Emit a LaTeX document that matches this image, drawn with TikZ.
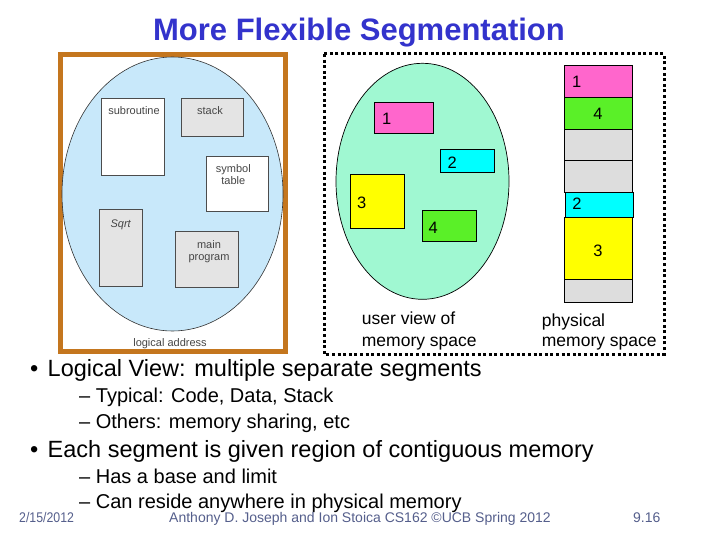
\documentclass[tikz,border=0pt]{standalone}
\usepackage{fontspec}
\setmainfont{Liberation Sans}
\usepackage{graphicx}
\definecolor{titleblue}{RGB}{51,51,204}
\definecolor{framebrown}{RGB}{196,118,30}
\definecolor{lightblue}{RGB}{200,232,250}
\definecolor{mint}{RGB}{160,248,210}
\definecolor{segpink}{RGB}{255,102,204}
\definecolor{seggreen}{RGB}{90,240,40}
\definecolor{segcyan}{RGB}{0,255,255}
\definecolor{segyellow}{RGB}{255,255,0}
\definecolor{memgray}{RGB}{221,221,221}
\definecolor{boxgray}{RGB}{228,228,228}
\definecolor{smalltext}{RGB}{70,70,70}
\definecolor{footcol}{RGB}{85,95,140}
\begin{document}
\begin{tikzpicture}[x=1pt,y=-1pt,
  smallbox/.style={draw=black!70,line width=0.8pt},
  smalllabel/.style={inner sep=0pt,anchor=base,text=smalltext,font=\fontsize{11}{12}\selectfont},
  seg/.style={draw=black,line width=1pt},
  seglabel/.style={inner sep=0pt,font=\fontsize{16.5}{18}\selectfont},
  caption/.style={inner sep=0pt,anchor=base west,font=\fontsize{17.5}{20}\selectfont},
  bulletA/.style={inner sep=0pt,anchor=base west,font=\fontsize{23.5}{27}\selectfont},
  bulletB/.style={inner sep=0pt,anchor=base west,font=\fontsize{20}{24}\selectfont},
  foot/.style={inner sep=0pt,text=footcol,font=\fontsize{14}{16}\selectfont}]
\useasboundingbox (0,0) rectangle (720,540);
\fill[white] (0,0) rectangle (720,540);

% title
\node[inner sep=0pt,anchor=base,text=titleblue,font=\fontsize{31}{36}\selectfont\bfseries] (title) at (359,41) {More Flexible Segmentation};

% logical address picture
\draw[framebrown,line width=5pt] (60,54.7) rectangle (285,351);
\draw[fill=lightblue,draw=black!80,line width=0.6pt] (172.5,194) ellipse [x radius=110.5,y radius=137];
\draw[smallbox,fill=white] (101,98.3) rectangle (164.3,175.3);
\node[smalllabel] (subr) at (134,114.5) {subroutine};
\draw[smallbox,fill=boxgray] (181,98.3) rectangle (243.3,136);
\node[smalllabel] (stack) at (210,114.5) {stack};
\draw[smallbox,fill=white] (206,156) rectangle (268.3,211.7);
\node[smalllabel] (symb) at (233.3,173) {symbol};
\node[smalllabel] (tabl) at (233.3,185) {table};
\draw[smallbox,fill=boxgray] (99.3,209.3) rectangle (142.3,286);
\node[smalllabel,font=\fontsize{11}{12}\selectfont\itshape] (sqrt) at (120.7,227) {Sqrt};
\draw[smallbox,fill=boxgray] (175.7,231.7) rectangle (238.3,287.3);
\node[smalllabel] (mainl) at (209,248) {main};
\node[smalllabel] (progl) at (209,260.5) {program};
\node[smalllabel] (logaddr) at (170,346.5) {logical address};

% dotted frame
\draw[line width=3pt,dash pattern=on 3pt off 2.6pt] (324,54) rectangle (664,354);

% user view
\draw[fill=mint,draw=black,line width=0.7pt] (422.5,181.3) ellipse [x radius=86.5,y radius=118];
\draw[seg,fill=segpink] (374.3,102.3) rectangle (433.3,133.3);
\node[seglabel] (u1) at (386.7,119.3) {1};
\draw[seg,fill=segcyan] (440.3,150) rectangle (494.3,172.3);
\node[seglabel] (u2) at (452.3,162.7) {2};
\draw[seg,fill=segyellow] (350,174.3) rectangle (404.3,228.3);
\node[seglabel] (u3) at (361.7,202.7) {3};
\draw[seg,fill=seggreen] (422,210.3) rectangle (476.3,241.3);
\node[seglabel] (u4) at (433.3,227.7) {4};

% physical memory
\draw[seg,fill=segpink] (564.7,66) rectangle (632.3,97.3);
\node[seglabel] (p1) at (576.7,82) {1};
\draw[seg,fill=seggreen] (564.7,97.3) rectangle (632.3,129.3);
\node[seglabel] (p4) at (598,114) {4};
\draw[seg,fill=memgray] (564.7,129.3) rectangle (632.3,161);
\draw[seg,fill=memgray] (564.7,161) rectangle (632.3,192.7);
\draw[seg,fill=segyellow] (564.7,217.3) rectangle (632.3,279.3);
\node[seglabel] (p3) at (598,250.7) {3};
\draw[seg,fill=memgray] (564.7,279.3) rectangle (632.3,302.3);
\draw[seg,fill=segcyan] (565.7,192.7) rectangle (633.3,217.3);
\node[seglabel] (p2) at (577,204) {2};

\node[caption] (uv1) at (361.7,324.5) {user view of};
\node[caption] (uv2) at (361.7,346.7) {memory space};
\node[caption] (pm1) at (541.7,326.5) {physical};
\node[caption] (pm2) at (541.7,346.7) {memory space};

% bullets
\node[bulletA] (b1) at (30,376) {•};
\node[bulletA] (t1) at (47.5,376) {Logical View: multiple separate segments};
\node[bulletB] (t11) at (79,402.5) {– Typical: Code, Data, Stack};
\node[bulletB] (t12) at (79,428.5) {– Others: memory sharing, etc};
\node[bulletA] (b2) at (30,457) {•};
\node[bulletA] (t2) at (47.5,457) {Each segment is given region of contiguous memory};
\node[bulletB] (t21) at (79,483.5) {– Has a base and limit};
\node[bulletB] (t22) at (79,508.5) {– Can reside anywhere in physical memory};

% footer
\node[foot,anchor=base west] (date) at (19,522) {\scalebox{0.88}[1]{2/15/2012}};
\node[foot,anchor=base] (authors) at (360,522) {Anthony D. Joseph and Ion Stoica CS162 ©UCB Spring 2012};
\node[foot,anchor=base west] (slide) at (633,522) {9.16};
\end{tikzpicture}
\end{document}
